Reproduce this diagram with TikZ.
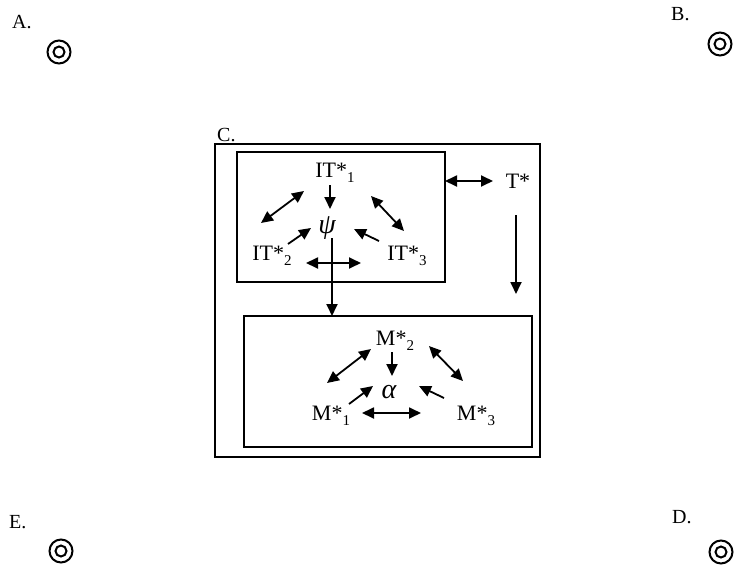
\documentclass[tikz,border=0pt]{standalone}
\usepackage{fontspec}
\setmainfont{Liberation Serif}
\usetikzlibrary{arrows.meta}
\newcommand{\lsub}[1]{\raisebox{-5.5pt}{\fontsize{15}{15}\selectfont #1}}
\begin{document}
\begin{tikzpicture}[x=1pt,y=-1pt,
  lbl/.style={font=\fontsize{22}{24}\selectfont, inner sep=0pt, anchor=base},
  corner/.style={font=\fontsize{20}{22}\selectfont, inner sep=0pt, anchor=base west},
  greek/.style={font=\fontsize{28}{30}\selectfont\itshape, inner sep=0pt},
  box/.style={draw, line width=1.6pt, inner sep=0pt, outer sep=0pt},
  arr/.style={line width=1.8pt, -{Triangle[length=12pt,width=11pt]}},
  darr/.style={line width=1.8pt, {Triangle[length=12pt,width=11pt]}-{Triangle[length=12pt,width=11pt]}},
  tgt/.style={draw, line width=2pt, circle, inner sep=0pt}]
\useasboundingbox (0,0) rectangle (734,565);

% corner labels and targets
\node[corner] (lA) at (12,28) {A.};
\node[corner] (lB) at (671,20) {B.};
\node[corner] (lE) at (9,528) {E.};
\node[corner] (lD) at (672,523) {D.};
\foreach \n/\p in {tA/{(59,52)}, tB/{(720,44)}, tE/{(61,551)}, tD/{(721,552)}}{
  \node[tgt, minimum size=23pt] (\n o) at \p {};
  \node[tgt, minimum size=11pt] (\n i) at \p {};
}

% boxes
\node[box, minimum width=325pt, minimum height=313pt] (C) at (377.5,300.5) {};
\node[corner] (lC) at (217,141) {C.};
\node[box, minimum width=208pt, minimum height=130pt] (top) at (341,217) {};
\node[box, minimum width=288pt, minimum height=131pt] (bot) at (388,381.5) {};

% top box contents
\node[lbl] (IT1) at (335,177) {IT*\lsub{1}};
\node[lbl] (IT2) at (272,260) {IT*\lsub{2}};
\node[lbl] (IT3) at (407,260) {IT*\lsub{3}};
\node[greek] (psi) at (327,228) {ψ};
\node[lbl] (T) at (518,188) {T*};

% bottom box contents
\node[lbl] (M2) at (395,345) {M*\lsub{2}};
\node[lbl] (M1) at (331,420) {M*\lsub{1}};
\node[lbl] (M3) at (476,420) {M*\lsub{3}};
\node[greek] (alpha) at (389,392) {α};

% arrow end coordinates (top box)
\coordinate (a1s) at (330,185); \coordinate (a1e) at (330,209);
\coordinate (a2s) at (261,223); \coordinate (a2e) at (304,191);
\coordinate (a3s) at (371,196); \coordinate (a3e) at (404,231);
\coordinate (a4s) at (288,244); \coordinate (a4e) at (311,228);
\coordinate (a5s) at (379,241); \coordinate (a5e) at (354,229);
\coordinate (a6s) at (306,263); \coordinate (a6e) at (361,263);
\coordinate (v1s) at (332,238); \coordinate (v1e) at (332,316);
\coordinate (t1s) at (445,181); \coordinate (t1e) at (493,181);
\coordinate (t2s) at (516,215); \coordinate (t2e) at (516,294);

\draw[arr] (a1s) -- (a1e);
\draw[darr] (a2s) -- (a2e);
\draw[darr] (a3s) -- (a3e);
\draw[arr] (a4s) -- (a4e);
\draw[arr] (a5s) -- (a5e);
\draw[darr] (a6s) -- (a6e);
\draw[arr] (v1s) -- (v1e);
\draw[darr] (t1s) -- (t1e);
\draw[arr] (t2s) -- (t2e);

% arrow end coordinates (bottom box)
\coordinate (b1s) at (392,352); \coordinate (b1e) at (392,376);
\coordinate (b2s) at (327,383); \coordinate (b2e) at (371,349);
\coordinate (b3s) at (429,346); \coordinate (b3e) at (463,381);
\coordinate (b4s) at (349,404); \coordinate (b4e) at (373,386);
\coordinate (b5s) at (444,398); \coordinate (b5e) at (419,386);
\coordinate (b6s) at (362,413); \coordinate (b6e) at (421,413);

\draw[arr] (b1s) -- (b1e);
\draw[darr] (b2s) -- (b2e);
\draw[darr] (b3s) -- (b3e);
\draw[arr] (b4s) -- (b4e);
\draw[arr] (b5s) -- (b5e);
\draw[darr] (b6s) -- (b6e);
\end{tikzpicture}
\end{document}
